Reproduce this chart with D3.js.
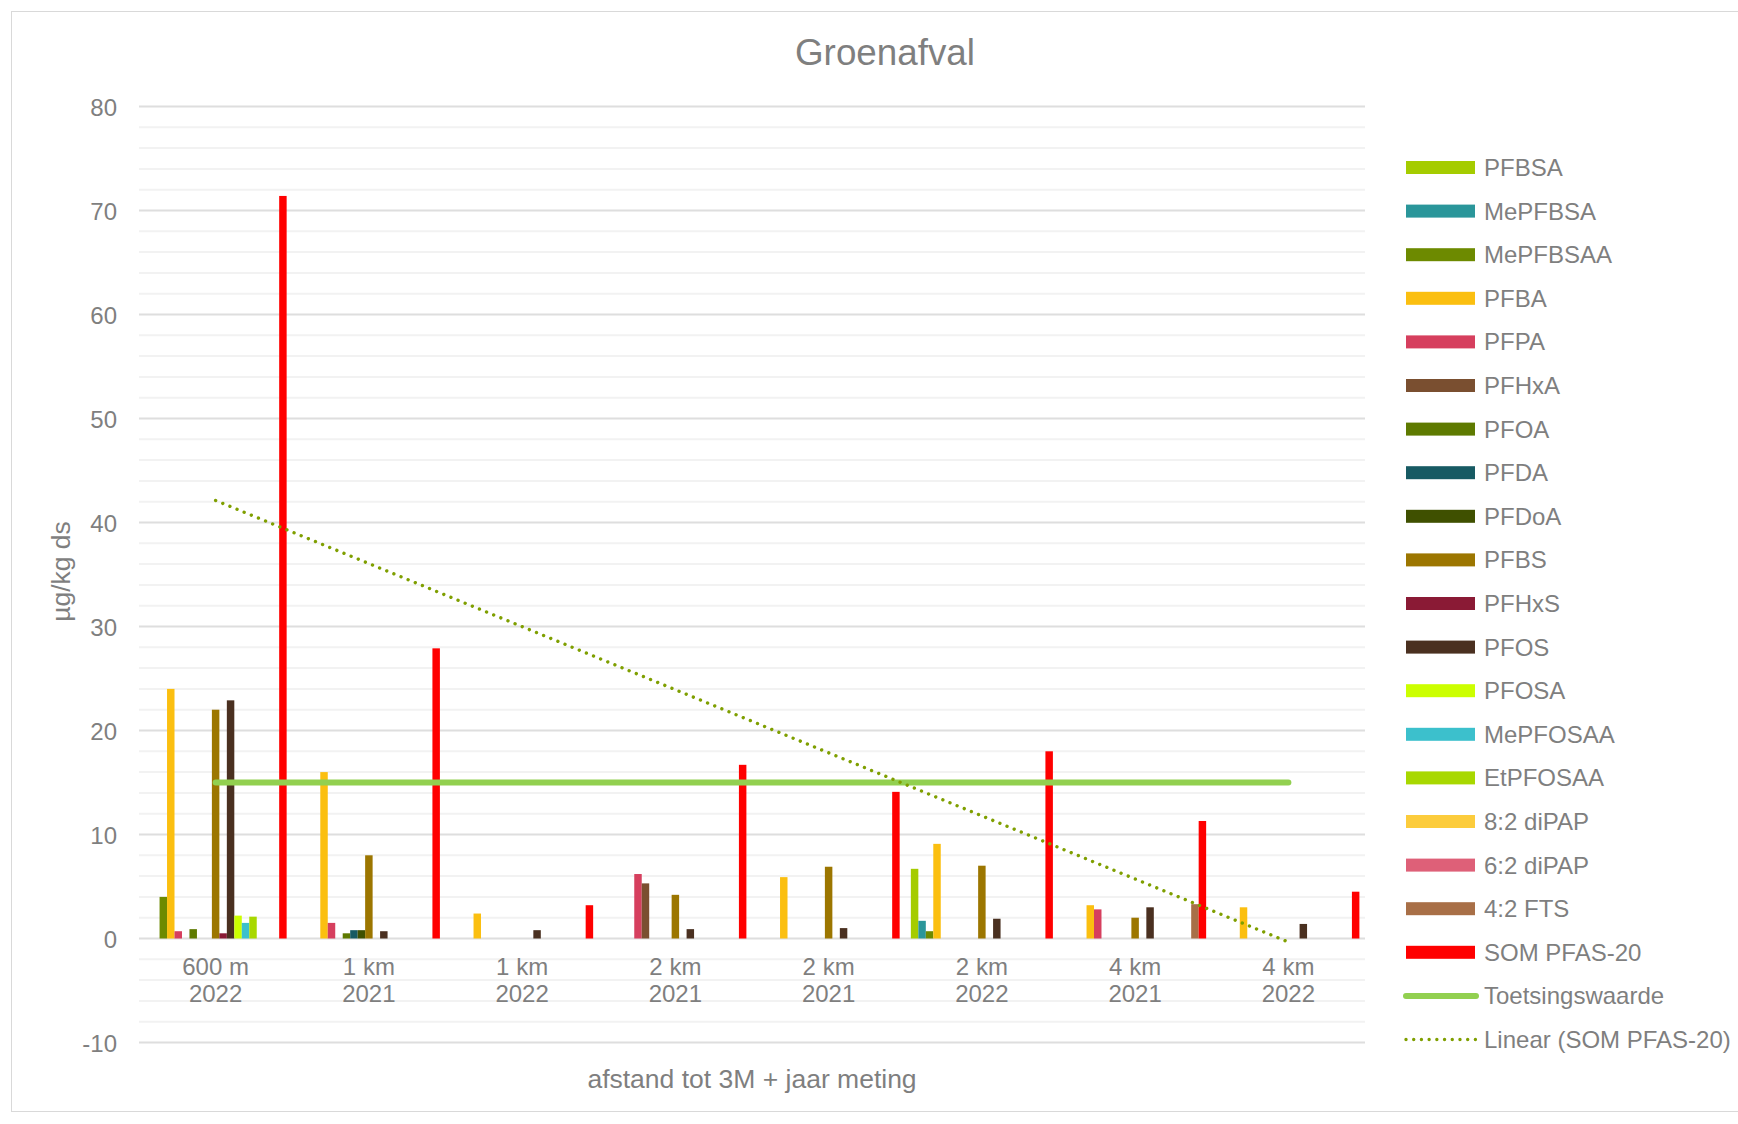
<!DOCTYPE html>
<html>
<head>
<meta charset="utf-8">
<script src="https://cdn.jsdelivr.net/npm/d3@7"></script>
<style>
  body { margin: 0; background: #fff; }
  text { font-family: "Liberation Sans", Arial, sans-serif; fill: #7f7f7f; }
</style>
</head>
<body>
<div id="chart"></div>
<script>
// categories: distance to 3M + year of measurement
const categories = [
  ["600 m", "2022"], ["1 km", "2021"], ["1 km", "2022"], ["2 km", "2021"],
  ["2 km", "2021"], ["2 km", "2022"], ["4 km", "2021"], ["4 km", "2022"]
];

// bar series (µg/kg ds), one value per category, null = not shown
const PFBSA     = [null, null, null, null, null, 6.7, null, null];
const MePFBSA   = [null, null, null, null, null, 1.7, null, null];
const MePFBSAA  = [4.0, null, null, null, null, 0.7, null, null];
const PFBA      = [24.0, 16.0, 2.4, null, 5.9, 9.1, 3.2, 3.0];
const PFPA      = [0.7, 1.5, null, 6.2, null, null, 2.8, null];
const PFHxA     = [null, null, null, 5.3, null, null, null, null];
const PFOA      = [0.9, 0.5, null, null, null, null, null, null];
const PFDA      = [null, 0.8, null, null, null, null, null, null];
const PFDoA     = [null, 0.8, null, null, null, null, null, null];
const PFBS      = [22.0, 8.0, null, 4.2, 6.9, 7.0, 2.0, null];
const PFHxS     = [0.5, null, null, null, null, null, null, null];
const PFOS      = [22.9, 0.7, 0.8, 0.9, 1.0, 1.9, 3.0, 1.4];
const PFOSA     = [2.2, null, null, null, null, null, null, null];
const MePFOSAA  = [1.5, null, null, null, null, null, null, null];
const EtPFOSAA  = [2.1, null, null, null, null, null, null, null];
const diPAP82   = [null, null, null, null, null, null, null, null];
const diPAP62   = [null, null, null, null, null, null, null, null];
const FTS42     = [null, null, null, null, null, null, 3.3, null];
const SOM       = [71.4, 27.9, 3.2, 16.7, 14.1, 18.0, 11.3, 4.5];

const toetsingswaarde = 15;

const yTicks = [-10, 0, 10, 20, 30, 40, 50, 60, 70, 80];

const series = [
  {name: "PFBSA", values: PFBSA, color: "#a5cc00"},
  {name: "MePFBSA", values: MePFBSA, color: "#2a969a"},
  {name: "MePFBSAA", values: MePFBSAA, color: "#6d8a00"},
  {name: "PFBA", values: PFBA, color: "#fbbf10"},
  {name: "PFPA", values: PFPA, color: "#d63f5e"},
  {name: "PFHxA", values: PFHxA, color: "#7a4f30"},
  {name: "PFOA", values: PFOA, color: "#5e7a00"},
  {name: "PFDA", values: PFDA, color: "#175a63"},
  {name: "PFDoA", values: PFDoA, color: "#3f5000"},
  {name: "PFBS", values: PFBS, color: "#9c7600"},
  {name: "PFHxS", values: PFHxS, color: "#8a1a35"},
  {name: "PFOS", values: PFOS, color: "#4a3020"},
  {name: "PFOSA", values: PFOSA, color: "#ccff00"},
  {name: "MePFOSAA", values: MePFOSAA, color: "#3cc0cc"},
  {name: "EtPFOSAA", values: EtPFOSAA, color: "#a8d800"},
  {name: "8:2 diPAP", values: diPAP82, color: "#fccc3c"},
  {name: "6:2 diPAP", values: diPAP62, color: "#de6078"},
  {name: "4:2 FTS", values: FTS42, color: "#a86f47"},
  {name: "SOM PFAS-20", values: SOM, color: "#ff0000"}
];

const outerWidth = 1738, outerHeight = 1124;
const plot = {left: 139, right: 1365, top: 106.5, bottom: 1042.5};

const svg = d3.select("#chart").append("svg")
    .attr("width", outerWidth)
    .attr("height", outerHeight);

// chart border
svg.append("rect")
    .attr("x", 11.5).attr("y", 11.5)
    .attr("width", outerWidth).attr("height", 1100)
    .attr("fill", "none").attr("stroke", "#d9d9d9");

const yScale = d3.scaleLinear().domain([-10, 80]).range([plot.bottom, plot.top]);

const xScale = d3.scaleBand()
    .domain(d3.range(categories.length))
    .range([plot.left, plot.right])
    .padding(0);

const step = xScale.bandwidth();
const bw = step / (series.length + 1.5);   // excel gap width 150%
const xInner = d3.scaleBand()
    .domain(series.map(d => d.name))
    .range([0.75 * bw, step - 0.75 * bw]);

// gridlines
const minor = d3.range(-10, 81, 2).filter(v => v % 10 !== 0);
svg.append("g").selectAll("line")
    .data(minor)
    .join("line")
    .attr("x1", plot.left).attr("x2", plot.right)
    .attr("y1", d => yScale(d)).attr("y2", d => yScale(d))
    .attr("stroke", "#f2f2f2").attr("stroke-width", 2);

svg.append("g").selectAll("line")
    .data(yTicks)
    .join("line")
    .attr("x1", plot.left).attr("x2", plot.right)
    .attr("y1", d => yScale(d)).attr("y2", d => yScale(d))
    .attr("stroke", "#dedede").attr("stroke-width", 2);

// y axis labels
const yAxis = d3.axisLeft(yScale).tickValues(yTicks)
    .tickFormat(d => String(d))
    .tickSize(0).tickPadding(0);
const yg = svg.append("g")
    .attr("transform", `translate(${plot.left - 22},1.5)`)
    .call(yAxis);
yg.select(".domain").remove();
yg.selectAll("text")
    .attr("font-size", 24)
    .attr("fill", "#7f7f7f")
    .attr("font-family", "Liberation Sans, Arial, sans-serif");

// bars
const barData = [];
series.forEach(s => s.values.forEach((v, i) => {
    if (v != null) barData.push({name: s.name, color: s.color, i: i, v: v});
}));

svg.append("g").selectAll("rect")
    .data(barData)
    .join("rect")
    .attr("x", d => xScale(d.i) + xInner(d.name))
    .attr("width", xInner.bandwidth())
    .attr("y", d => yScale(d.v))
    .attr("height", d => yScale(0) - yScale(d.v))
    .attr("fill", d => d.color);

// category labels
const catG = svg.append("g").selectAll("text")
    .data(categories)
    .join("text")
    .attr("text-anchor", "middle")
    .attr("font-size", 24);
catG.append("tspan")
    .attr("x", (d, i) => xScale(i) + step / 2)
    .attr("y", 975)
    .text(d => d[0]);
catG.append("tspan")
    .attr("x", (d, i) => xScale(i) + step / 2)
    .attr("y", 1002)
    .text(d => d[1]);

// toetsingswaarde line
const centers = categories.map((d, i) => xScale(i) + step / 2);
svg.append("line")
    .attr("x1", centers[0]).attr("x2", centers[centers.length - 1])
    .attr("y1", yScale(toetsingswaarde)).attr("y2", yScale(toetsingswaarde))
    .attr("stroke", "#92d050").attr("stroke-width", 6)
    .attr("stroke-linecap", "round");

// linear trendline of SOM PFAS-20 (least squares, as excel does)
const xs = SOM.map((d, i) => i + 1);
const mx = d3.mean(xs), my = d3.mean(SOM);
const slope = d3.sum(xs, (x, i) => (x - mx) * (SOM[i] - my)) / d3.sum(xs, x => (x - mx) ** 2);
const trend = x => my + slope * (x - mx);

svg.append("line")
    .attr("x1", centers[0]).attr("x2", centers[centers.length - 1])
    .attr("y1", yScale(trend(1))).attr("y2", yScale(trend(categories.length)))
    .attr("stroke", "#7f9f00").attr("stroke-width", 3.4)
    .attr("stroke-linecap", "round")
    .attr("stroke-dasharray", "0.01 7.7");

// titles
svg.append("text")
    .attr("x", 885).attr("y", 65)
    .attr("text-anchor", "middle")
    .attr("font-size", 36.8)
    .text("Groenafval");

svg.append("text")
    .attr("x", (plot.left + plot.right) / 2).attr("y", 1088)
    .attr("text-anchor", "middle")
    .attr("font-size", 26.5)
    .text("afstand tot 3M + jaar meting");

svg.append("text")
    .attr("transform", `translate(70, ${(plot.top + plot.bottom) / 2 - 3}) rotate(-90)`)
    .attr("text-anchor", "middle")
    .attr("font-size", 26.5)
    .text("µg/kg ds");

// legend
const legendItems = series.map(s => ({name: s.name, color: s.color, type: "bar"}))
    .concat([{name: "Toetsingswaarde", color: "#92d050", type: "line"},
             {name: "Linear (SOM PFAS-20)", color: "#7f9f00", type: "trend"}]);

const leg = svg.append("g").selectAll("g")
    .data(legendItems)
    .join("g")
    .attr("transform", (d, i) => `translate(1406, ${167.5 + i * 43.6})`);

leg.filter(d => d.type === "bar").append("rect")
    .attr("x", 0).attr("y", -6.5)
    .attr("width", 69).attr("height", 13)
    .attr("fill", d => d.color);

leg.filter(d => d.type === "line").append("line")
    .attr("x1", 0).attr("x2", 70).attr("y1", 0).attr("y2", 0)
    .attr("stroke", d => d.color).attr("stroke-width", 6)
    .attr("stroke-linecap", "round");

leg.filter(d => d.type === "trend").append("line")
    .attr("x1", 0).attr("x2", 70).attr("y1", 0).attr("y2", 0)
    .attr("stroke", d => d.color).attr("stroke-width", 3.4)
    .attr("stroke-linecap", "round")
    .attr("stroke-dasharray", "0.01 7.7");

leg.append("text")
    .attr("x", 78).attr("y", 0)
    .attr("dy", "0.35em")
    .attr("font-size", 24)
    .text(d => d.name);
</script>
</body>
</html>
